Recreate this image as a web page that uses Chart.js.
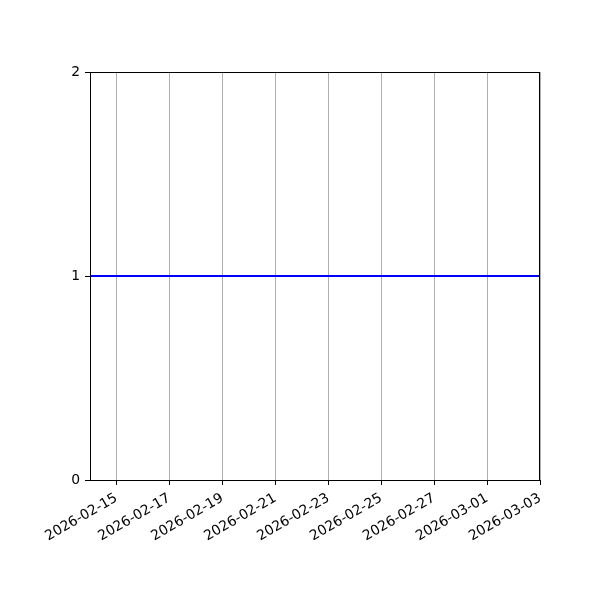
<!DOCTYPE html>
<html>
<head>
<meta charset="utf-8">
<script src="https://cdn.jsdelivr.net/npm/chart.js@4.4.1/dist/chart.umd.min.js"></script>
<style>
  html, body { margin: 0; padding: 0; background: #fff; }
  #wrap { width: 600px; height: 600px; }
</style>
</head>
<body>
<div id="wrap"><canvas id="grafico" width="600" height="600"></canvas></div>
<script>
const fechas = [
  "2026-02-14", "2026-02-15", "2026-02-16", "2026-02-17", "2026-02-18", "2026-02-19",
  "2026-02-20", "2026-02-21", "2026-02-22", "2026-02-23", "2026-02-24", "2026-02-25",
  "2026-02-26", "2026-02-27", "2026-02-28", "2026-03-01", "2026-03-02", "2026-03-03"
];
const valores = [1, 1, 1, 1, 1, 1, 1, 1, 1, 1, 1, 1, 1, 1, 1, 1, 1, 1];
const etiquetasX = [
  "2026-02-15", "2026-02-17", "2026-02-19", "2026-02-21", "2026-02-23",
  "2026-02-25", "2026-02-27", "2026-03-01", "2026-03-03"
];
const ticksY = [0, 1, 2];

const DIA = 86400000;
const inicio = Date.UTC(2026, 1, 14);

function aDia(fecha) {
  const [a, m, d] = fecha.split("-").map(Number);
  return (Date.UTC(a, m - 1, d) - inicio) / DIA;
}

function aFecha(dia) {
  return new Date(inicio + dia * DIA).toISOString().slice(0, 10);
}

const puntos = fechas.map((f, i) => ({ x: aDia(f), y: valores[i] }));

// matplotlib dibuja los cuatro bordes del eje
const marco = {
  id: "marco",
  afterDraw(chart) {
    const { ctx, chartArea: a } = chart;
    ctx.save();
    ctx.strokeStyle = "#000";
    ctx.lineWidth = 1;
    ctx.strokeRect(a.left + 0.5, a.top + 0.5, a.right - a.left - 1, a.bottom - a.top);
    ctx.restore();
  }
};

Chart.defaults.font.family = "'DejaVu Sans', sans-serif";
Chart.defaults.font.size = 13.9;
Chart.defaults.color = "#000";

const ctx = document.getElementById("grafico").getContext("2d");
const chart = new Chart(ctx, {
  type: "line",
  data: {
    datasets: [
      {
        data: puntos,
        borderColor: "#0000ff",
        borderWidth: 2,
        pointRadius: 0,
        fill: false,
        tension: 0,
      },
    ],
  },
  options: {
    responsive: false,
    animation: false,
    layout: { padding: { top: 72, right: 60, left: 0, bottom: 0 } },
    plugins: { legend: { display: false }, tooltip: { enabled: false } },
    scales: {
      x: {
        type: "linear",
        min: 0,
        max: aDia(fechas[fechas.length - 1]),
        afterBuildTicks: (s) => { s.ticks = etiquetasX.map((f) => ({ value: aDia(f) })); },
        afterFit: (s) => { s.height = 120; },
        ticks: {
          callback: (v) => aFecha(v),
          minRotation: 30,
          maxRotation: 30,
          autoSkip: false,
          padding: 5,
        },
        grid: { color: "#b0b0b0", lineWidth: 1, tickColor: "#000", tickLength: 5 },
        border: { color: "#000", width: 1 },
      },
      y: {
        min: 0,
        max: 2,
        afterBuildTicks: (s) => { s.ticks = ticksY.map((v) => ({ value: v })); },
        afterFit: (s) => { s.width = 90; },
        ticks: { padding: 5 },
        grid: { drawOnChartArea: false, tickColor: "#000", tickLength: 5 },
        border: { color: "#000", width: 1 },
      },
    },
  },
  plugins: [marco],
});
</script>
</body>
</html>
